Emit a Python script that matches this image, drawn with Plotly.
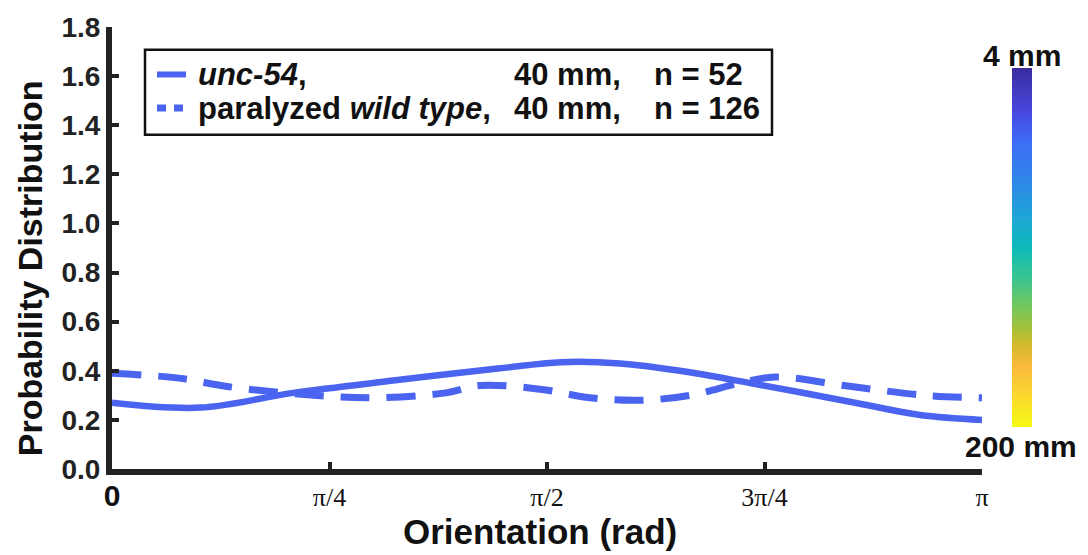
import math
import plotly.graph_objects as go

# ---- data ----
orientation_solid = [0.000, 0.318, 0.654, 1.015, 1.401, 1.621, 1.834, 2.051, 2.304, 2.683, 2.918, math.pi]
unc54_prob        = [0.27, 0.25, 0.31, 0.36, 0.41, 0.435, 0.43, 0.40, 0.35, 0.27, 0.22, 0.20]

orientation_dashed = [0.000, 0.242, 0.422, 0.729, 0.950, 1.206, 1.329, 1.545, 1.726, 1.907, 2.087, 2.268, 2.394, 2.643, 2.936, math.pi]
wildtype_prob      = [0.39, 0.37, 0.335, 0.30, 0.29, 0.31, 0.34, 0.325, 0.29, 0.28, 0.30, 0.35, 0.375, 0.34, 0.30, 0.29]

x_tickvals = [0, math.pi / 4, math.pi / 2, 3 * math.pi / 4, math.pi]
x_ticktext = ["<span style='font-family:Liberation Sans;font-weight:bold;font-size:30px'>0</span>",
              "\u03c0/4", "\u03c0/2", "3\u03c0/4", "\u03c0"]
y_tickvals = [0.0, 0.2, 0.4, 0.6, 0.8, 1.0, 1.2, 1.4, 1.6, 1.8]

legend_names = ["<i>unc-54</i>,", "paralyzed <i>wild type</i>,"]
legend_len = ["40 mm,", "40 mm,"]
legend_n = ["n = 52", "n = 126"]
colorbar_labels = ["4 mm", "200 mm"]
x_title = "Orientation (rad)"
y_title = "Probability Distribution"

# ---- styling ----
BLUE = "#4a64f0"
AXC = "#222222"
TXT = "#111111"
SANS = "Liberation Sans, Arial, sans-serif"
SERIF = "Liberation Serif, Times New Roman, serif"

W, H = 1088, 555
ML, MR, MT, MB = 112, 106, 22, 86
PW, PH = W - ML - MR, H - MT - MB


def px(x):
    return (x - ML) / PW


def py(y):
    return (H - MB - y) / PH


parula_rev = [[0.0, '#f5fa16'], [0.10, '#fbd431'], [0.17, '#f9ba3b'], [0.23, '#d3b92c'],
              [0.27, '#a9c036'], [0.34, '#70c760'], [0.41, '#3cc58f'], [0.50, '#0dbab8'],
              [0.58, '#1ea7d5'], [0.67, '#2c8be6'], [0.79, '#3e6ef6'], [0.88, '#4747de'],
              [1.0, '#3b2c9e']]

fig = go.Figure()
fig.add_trace(go.Scatter(x=orientation_solid, y=unc54_prob, mode="lines",
                         line=dict(color=BLUE, width=6.5, shape="spline", smoothing=1.0),
                         name="unc-54", showlegend=False))
fig.add_trace(go.Scatter(x=orientation_dashed, y=wildtype_prob, mode="lines",
                         line=dict(color=BLUE, width=7, dash="29px,17px", shape="spline", smoothing=1.0),
                         name="paralyzed wild type", showlegend=False))
# colour bar (length scale)
fig.add_trace(go.Scatter(x=[0, 0], y=[-5, -5], mode="markers", showlegend=False, hoverinfo="skip",
                         marker=dict(color=[0, 1], cmin=0, cmax=1, colorscale=parula_rev, size=1,
                                     showscale=True,
                                     colorbar=dict(x=px(1012), xanchor="left", y=py(63), yanchor="top",
                                                   thickness=20, thicknessmode="pixels",
                                                   len=359, lenmode="pixels", outlinewidth=0,
                                                   showticklabels=False, ticks="", xpad=0, ypad=0))))

shapes = []
annotations = []
# legend box
shapes.append(dict(type="rect", xref="paper", yref="paper", x0=px(145), x1=px(772), y0=py(131), y1=py(45),
                   line=dict(color=TXT, width=2.5), fillcolor="white", layer="above"))
shapes.append(dict(type="line", xref="paper", yref="paper", x0=px(157), x1=px(186), y0=py(70), y1=py(70),
                   line=dict(color=BLUE, width=6), layer="above"))
shapes.append(dict(type="line", xref="paper", yref="paper", x0=px(157), x1=px(183), y0=py(104), y1=py(104),
                   line=dict(color=BLUE, width=7, dash="9px,8px"), layer="above"))
rows_y = [70, 104]
for i in range(2):
    for txt, xl in ((legend_names[i], 196), (legend_len[i], 512), (legend_n[i], 652)):
        annotations.append(dict(xref="paper", yref="paper", x=px(xl), y=py(rows_y[i]), xanchor="left",
                                yanchor="middle", text=txt, showarrow=False,
                                font=dict(family=SANS, size=31, color=TXT, weight="bold")))
annotations.append(dict(xref="paper", yref="paper", x=px(1022), y=py(51), text=colorbar_labels[0],
                        showarrow=False, xanchor="center", yanchor="middle",
                        font=dict(family=SANS, size=30, color=TXT, weight="bold")))
annotations.append(dict(xref="paper", yref="paper", x=px(1021), y=py(446), text=colorbar_labels[1],
                        showarrow=False, xanchor="center", yanchor="middle",
                        font=dict(family=SANS, size=30, color=TXT, weight="bold")))
# axis titles
annotations.append(dict(xref="paper", yref="paper", x=px(540), y=py(554), text=x_title,
                        showarrow=False, xanchor="center", yanchor="bottom",
                        font=dict(family=SANS, size=35, color=TXT, weight="bold")))
annotations.append(dict(xref="paper", yref="paper", x=px(30), y=py(266), text=y_title, textangle=-90,
                        showarrow=False, xanchor="center", yanchor="middle",
                        font=dict(family=SANS, size=34, color=TXT, weight="bold")))

fig.update_layout(
    width=W, height=H, autosize=False,
    margin=dict(l=ML, r=MR, t=MT, b=MB, pad=0),
    paper_bgcolor="white", plot_bgcolor="white",
    shapes=shapes, annotations=annotations, showlegend=False,
    xaxis=dict(range=[0, math.pi], tickvals=x_tickvals, ticktext=x_ticktext,
               showline=True, linewidth=6, linecolor=AXC, ticks="inside", ticklen=7, tickwidth=4,
               tickcolor=AXC, showgrid=False, zeroline=False, ticklabelstandoff=0,
               tickfont=dict(family=SERIF, size=26, color=TXT)),
    yaxis=dict(range=[0, 1.8], tickvals=y_tickvals, tickformat=".1f",
               showline=True, linewidth=6, linecolor=AXC, ticks="inside", ticklen=7, tickwidth=4,
               tickcolor=AXC, showgrid=False, zeroline=False,
               tickfont=dict(family=SANS, size=28, color="#222222", weight="bold")),
)

fig.write_html("out.html")
